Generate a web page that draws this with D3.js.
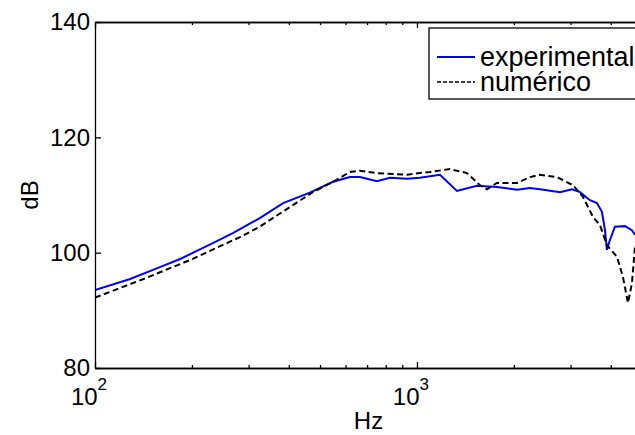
<!DOCTYPE html>
<html>
<head>
<meta charset="utf-8">
<script src="https://cdn.jsdelivr.net/npm/d3@7"></script>
<style>
 body{margin:0;background:#fff;}
 svg{display:block;font-family:"Liberation Sans",Arial,sans-serif;}
 .axis path,.axis line{stroke:#000;stroke-width:1.3;}
 .axis text{font-size:24px;fill:#000;}
</style>
</head>
<body>
<svg id="svg" width="635" height="435"></svg>
<script>
// experimental (blue)
var expHz=[100,128,159,184,233,268,325,384,465,549,619,665,751,825,931,1021,1179,1331,1536,1772,2045,2243,2410,2781,3030,3209,3446,3623,3754,3837,3890,3976,4120,4426,4653,4754];
var expDb=[93.5,95.4,97.5,98.9,101.7,103.4,106.0,108.6,110.4,112.3,113.1,113.1,112.4,113.0,112.8,113.0,113.5,110.7,111.6,111.4,110.9,111.2,111.0,110.5,111.0,110.5,109.1,108.6,107.1,103.9,100.5,102.2,104.5,104.6,103.9,103.1];
// numerico (black dashed)
var numHz=[100,141,197,282,325,350,403,475,549,619,665,751,931,1021,1098,1266,1430,1569,1650,1772,2045,2243,2410,2722,3051,3278,3521,3701,3890,4180,4363,4522,4653,4754];
var numDb=[92.2,95.4,98.7,102.7,104.5,105.7,107.9,110.5,112.3,114.0,114.2,113.8,113.5,113.8,114.0,114.5,113.8,111.7,111.0,112.1,112.1,113.1,113.5,113.1,111.7,109.7,106.2,104.8,101.3,99.3,95.8,91.3,94.7,101.0];

var yTicks=[80,100,120,140];
var xMajor=[100,1000];
var xMinor=[200,300,400,500,600,700,800,900,2000,3000,4000,5000];
var legendNames=["experimental","numérico"];

var svg=d3.select("#svg");
var padding={top:22,left:95};
var chartArea={width:547,height:346};

var xScale=d3.scaleLog().domain([100,5000]).range([0,chartArea.width]);
var yScale=d3.scaleLinear().domain([80,140]).range([chartArea.height,0]);

var g=svg.append("g").attr("transform","translate("+padding.left+","+padding.top+")");

g.append("clipPath").attr("id","clip").append("rect")
  .attr("width",chartArea.width).attr("height",chartArea.height);

// lines
var line=d3.line()
  .x(function(d){return xScale(d[0]);})
  .y(function(d){return yScale(d[1]);});

var lines=g.append("g").attr("clip-path","url(#clip)");
lines.append("path")
  .datum(expHz.map(function(h,i){return [h,expDb[i]];}))
  .attr("d",line).attr("fill","none").attr("stroke","#0000ff").attr("stroke-width",2);
lines.append("path")
  .datum(numHz.map(function(h,i){return [h,numDb[i]];}))
  .attr("d",line).attr("fill","none").attr("stroke","#000").attr("stroke-width",2)
  .attr("stroke-dasharray","6,3.5");

// axes (ticks inward, MATLAB style)
g.append("g").attr("class","axis")
  .attr("transform","translate(0,"+chartArea.height+")")
  .call(d3.axisBottom(xScale).tickValues(xMajor).tickSizeInner(-6).tickSizeOuter(0).tickFormat(""));
g.append("g").attr("class","axis")
  .attr("transform","translate(0,"+chartArea.height+")")
  .call(d3.axisBottom(xScale).tickValues(xMinor).tickSizeInner(-3).tickSizeOuter(0).tickFormat(""));
g.append("g").attr("class","axis")
  .call(d3.axisTop(xScale).tickValues(xMajor).tickSizeInner(-6).tickSizeOuter(0).tickFormat(""));
g.append("g").attr("class","axis")
  .call(d3.axisTop(xScale).tickValues(xMinor).tickSizeInner(-3).tickSizeOuter(0).tickFormat(""));
g.append("g").attr("class","axis")
  .call(d3.axisLeft(yScale).tickValues(yTicks).tickSizeInner(-6).tickSizeOuter(0).tickPadding(5));
g.append("g").attr("class","axis")
  .attr("transform","translate("+chartArea.width+",0)")
  .call(d3.axisRight(yScale).tickValues(yTicks).tickSizeInner(-6).tickSizeOuter(0).tickFormat(""));

// x tick labels 10^n
xMajor.forEach(function(v){
  var t=g.append("text").attr("x",xScale(v)-6).attr("y",chartArea.height+37)
    .attr("text-anchor","middle").style("font-size","24px");
  t.append("tspan").text("10");
  t.append("tspan").attr("dy",-15).style("font-size","17px").text(Math.round(Math.log10(v)));
});

// axis labels
svg.append("text").attr("x",padding.left+chartArea.width/2).attr("y",429)
  .attr("text-anchor","middle").style("font-size","24px").text("Hz");
svg.append("text").attr("transform","translate(38,"+(padding.top+chartArea.height/2)+") rotate(-90)")
  .attr("text-anchor","middle").style("font-size","24px").text("dB");

// legend
var leg=svg.append("g").attr("transform","translate(429,28)");
leg.append("rect").attr("width",215).attr("height",71)
  .attr("fill","#fff").attr("stroke","#000").attr("stroke-width",1.3);
leg.append("line").attr("x1",8).attr("x2",46).attr("y1",29).attr("y2",29)
  .attr("stroke","#0000ff").attr("stroke-width",2);
leg.append("line").attr("x1",8).attr("x2",46).attr("y1",54).attr("y2",54)
  .attr("stroke","#000").attr("stroke-width",1.3).attr("stroke-dasharray","4,2");
legendNames.forEach(function(n,i){
  leg.append("text").attr("x",51).attr("y",38+i*25).style("font-size","27px").text(n);
});
</script>
</body>
</html>
